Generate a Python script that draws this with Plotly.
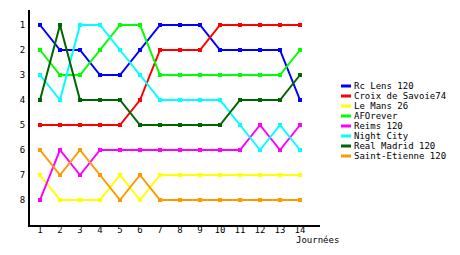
import plotly.graph_objects as go

journees = list(range(1, 15))
teams = ["Rc Lens 120", "Croix de Savoie74", "Le Mans 26", "AFOrever",
         "Reims 120", "Night City", "Real Madrid 120", "Saint-Etienne 120"]
colors = ["#0000FF", "#FF0000", "#FFFF00", "#00FF00",
          "#FF00FF", "#00FFFF", "#006400", "#FF9900"]

rc_lens      = [1, 2, 2, 3, 3, 2, 1, 1, 1, 2, 2, 2, 2, 4]
croix        = [5, 5, 5, 5, 5, 4, 2, 2, 2, 1, 1, 1, 1, 1]
le_mans      = [7, 8, 8, 8, 7, 8, 7, 7, 7, 7, 7, 7, 7, 7]
aforever     = [2, 3, 3, 2, 1, 1, 3, 3, 3, 3, 3, 3, 3, 2]
reims        = [8, 6, 7, 6, 6, 6, 6, 6, 6, 6, 6, 5, 6, 5]
night_city   = [3, 4, 1, 1, 2, 3, 4, 4, 4, 4, 5, 6, 5, 6]
real_madrid  = [4, 1, 4, 4, 4, 5, 5, 5, 5, 5, 4, 4, 4, 3]
saint_etienne= [6, 7, 6, 7, 8, 7, 8, 8, 8, 8, 8, 8, 8, 8]
series = [rc_lens, croix, le_mans, aforever, reims, night_city, real_madrid, saint_etienne]

ranks = list(range(1, 9))

FONT = "DejaVu Sans Mono"

fig = go.Figure()
for name, col, vals in zip(teams, colors, series):
    fig.add_trace(go.Scatter(
        x=journees, y=vals, name=name, mode="lines+markers",
        line=dict(color=col, width=2),
        marker=dict(symbol="square", size=4, color=col),
        showlegend=False,
    ))

# plot area in pixels: x 30..320, y 10..225
L, R, T, B = 30, 320, 10, 225
W, H = R - L, B - T

def px(xp):
    return (xp - L) / W

def py(yp):
    return (B - yp) / H

shapes = []
annotations = []
for i, (name, col) in enumerate(zip(teams, colors)):
    yy = 86 + 10 * i
    shapes.append(dict(type="line", xref="paper", yref="paper",
                       x0=px(341), x1=px(351), y0=py(yy), y1=py(yy),
                       line=dict(color=col, width=3)))
    annotations.append(dict(text=name, xref="paper", yref="paper",
                            x=px(352), y=py(yy), xanchor="left", yanchor="middle",
                            showarrow=False, font=dict(family=FONT, size=9, color="black")))

annotations.append(dict(text="Journées", xref="paper", yref="paper",
                        x=px(341), y=py(240), xanchor="right", yanchor="middle",
                        showarrow=False, font=dict(family=FONT, size=9, color="black")))

fig.update_layout(
    width=460, height=255,
    margin=dict(l=L, r=460 - R, t=T, b=255 - B, pad=0),
    paper_bgcolor="white", plot_bgcolor="white",
    font=dict(family=FONT, size=9, color="black"),
    shapes=shapes, annotations=annotations,
    xaxis=dict(range=[0.5, 15], tickvals=journees, ticktext=[str(j) for j in journees],
               showgrid=False, zeroline=False, showline=True, linecolor="black",
               linewidth=2, ticks="", ticklabelstandoff=-5, fixedrange=True),
    yaxis=dict(range=[9, 0.4], tickvals=ranks, ticktext=[str(r) for r in ranks],
               showgrid=False, zeroline=False, showline=True, linecolor="black",
               linewidth=2, ticks="", ticklabelstandoff=1, fixedrange=True),
)

fig.write_html("out.html")
